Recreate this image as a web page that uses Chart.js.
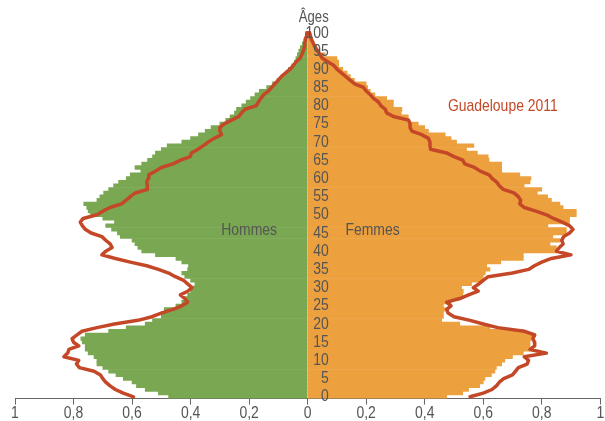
<!DOCTYPE html>
<html><head><meta charset="utf-8">
<script src="https://cdn.jsdelivr.net/npm/chart.js@4"></script>
<style>html,body{margin:0;padding:0;background:#fff;overflow:hidden}#wrap{width:605px;height:421px;position:relative}</style>
</head><body><div id="wrap"><canvas id="c"></canvas></div>
<script>
// Ages 0..100 (categories)
const ages = Array.from({length: 101}, (_, i) => String(i));
const xTickValues = [-1, -0.8, -0.6, -0.4, -0.2, 0, 0.2, 0.4, 0.6, 0.8, 1];

// Bars: Hommes (left), Femmes (right), ages 0..100
const menBars = [0.475,0.51,0.555,0.585,0.60,0.63,0.655,0.68,0.70,0.72,
 0.72,0.73,0.75,0.76,0.76,0.77,0.775,0.76,0.68,0.62,
 0.555,0.53,0.50,0.50,0.49,0.45,0.43,0.42,0.41,0.40,
 0.39,0.385,0.40,0.42,0.43,0.41,0.407,0.43,0.45,0.52,
 0.567,0.58,0.59,0.60,0.64,0.65,0.67,0.69,0.66,0.70,
 0.742,0.75,0.755,0.765,0.72,0.71,0.697,0.68,0.663,0.646,
 0.62,0.606,0.57,0.59,0.567,0.547,0.53,0.52,0.50,0.48,
 0.43,0.40,0.373,0.35,0.33,0.30,0.28,0.265,0.25,0.243,
 0.225,0.21,0.195,0.18,0.165,0.14,0.12,0.105,0.09,0.075,
 0.066,0.055,0.045,0.04,0.035,0.03,0.025,0.018,0.013,0.008,0.005];
const womenBars = [0.475,0.53,0.55,0.588,0.60,0.606,0.628,0.64,0.645,0.663,
 0.674,0.70,0.737,0.76,0.76,0.76,0.77,0.77,0.737,0.623,
 0.52,0.458,0.464,0.464,0.47,0.464,0.49,0.515,0.53,0.532,
 0.526,0.56,0.60,0.60,0.607,0.623,0.612,0.66,0.737,0.737,
 0.85,0.85,0.828,0.862,0.838,0.884,0.884,0.821,0.895,0.895,
 0.918,0.918,0.873,0.862,0.833,0.82,0.785,0.80,0.74,0.76,
 0.763,0.725,0.663,0.663,0.663,0.62,0.617,0.58,0.543,0.568,
 0.509,0.49,0.47,0.413,0.40,0.378,0.344,0.344,0.32,0.322,
 0.293,0.293,0.27,0.23,0.214,0.205,0.20,0.16,0.146,0.135,
 0.12,0.106,0.106,0.10,0.06,0.035,0.03,0.022,0.015,0.01,0.006];

// Line: Guadeloupe 2011, ages 0..100
const menLine = [0.595,0.63,0.657,0.675,0.69,0.70,0.708,0.73,0.78,0.79,
 0.782,0.833,0.82,0.816,0.782,0.80,0.805,0.788,0.771,0.72,
 0.66,0.58,0.532,0.50,0.46,0.43,0.41,0.42,0.435,0.41,
 0.395,0.41,0.424,0.452,0.475,0.51,0.55,0.606,0.657,0.703,
 0.69,0.668,0.675,0.69,0.703,0.74,0.76,0.77,0.777,0.767,
 0.72,0.70,0.675,0.636,0.62,0.606,0.589,0.547,0.548,0.55,
 0.545,0.543,0.52,0.50,0.46,0.435,0.401,0.397,0.375,0.356,
 0.34,0.32,0.294,0.30,0.30,0.285,0.26,0.235,0.226,0.214,
 0.175,0.168,0.16,0.15,0.134,0.123,0.112,0.10,0.09,0.075,
 0.06,0.049,0.04,0.026,0.02,0.015,0.011,0.01,0.008,0.005,0.003];
const womenLine = [0.555,0.60,0.63,0.645,0.655,0.67,0.70,0.71,0.72,0.75,
 0.755,0.74,0.816,0.76,0.776,0.775,0.77,0.776,0.74,0.65,
 0.60,0.555,0.50,0.48,0.475,0.49,0.475,0.52,0.55,0.583,
 0.566,0.585,0.60,0.617,0.70,0.755,0.775,0.80,0.833,0.90,
 0.85,0.86,0.873,0.868,0.875,0.895,0.907,0.895,0.87,0.84,
 0.816,0.78,0.74,0.725,0.728,0.72,0.705,0.668,0.655,0.646,
 0.63,0.62,0.59,0.57,0.537,0.53,0.50,0.475,0.42,0.418,
 0.418,0.413,0.39,0.356,0.35,0.35,0.345,0.293,0.27,0.265,
 0.25,0.242,0.225,0.214,0.20,0.191,0.16,0.145,0.13,0.115,
 0.10,0.09,0.07,0.05,0.042,0.035,0.026,0.02,0.014,0.01,0.007];

const GREEN = 'rgb(122,167,82)';
const ORANGE = 'rgb(236,160,62)';
const RED = 'rgb(196,72,40)';
const TXT = '#555555';
const FONT = '"Liberation Sans",Arial,sans-serif';
const CONDENSE = 0.82;

const linePoints = menLine.map((v, i) => ({x: -v, y: ages[i]}))
  .concat(womenLine.map((v, i) => ({x: v, y: ages[i]})).reverse());

function condensedText(ctx, text, x, y) {
  ctx.save();
  ctx.translate(x, y);
  ctx.scale(CONDENSE, 1);
  ctx.fillText(text, 0, 0);
  ctx.restore();
}

// Draw the axes' own label items with a narrow (condensed) face
function condensedDrawLabels(chartArea) {
  const ctx = this.ctx;
  const items = this.getLabelItems(chartArea);
  for (const item of items) {
    if (!item.label) continue;
    const o = item.options;
    ctx.save();
    ctx.font = item.font.string;
    ctx.fillStyle = o.color;
    ctx.textAlign = o.textAlign;
    ctx.textBaseline = o.textBaseline;
    ctx.translate(o.translation[0], o.translation[1]);
    ctx.scale(CONDENSE, 1);
    ctx.fillText(String(item.label), 0, item.textOffset || 0);
    ctx.restore();
  }
}

const annot = {
  id: 'annot',
  beforeDraw(chart) {
    chart.scales.x.drawLabels = condensedDrawLabels;
    chart.scales.y.drawLabels = condensedDrawLabels;
  },
  afterDraw(chart) {
    const ctx = chart.ctx, xs = chart.scales.x, ys = chart.scales.y;
    ctx.save();
    ctx.textBaseline = 'middle';
    ctx.font = '17px ' + FONT;
    ctx.fillStyle = TXT;
    ctx.textAlign = 'center';
    condensedText(ctx, 'Hommes', xs.getPixelForValue(-0.2), ys.getPixelForValue(45.7));
    condensedText(ctx, 'Femmes', xs.getPixelForValue(0.222), ys.getPixelForValue(45.7));
    ctx.fillStyle = RED;
    condensedText(ctx, 'Guadeloupe 2011', xs.getPixelForValue(0.667), ys.getPixelForValue(79.8));
    ctx.fillStyle = TXT;
    ctx.textAlign = 'right';
    ctx.font = '16px ' + FONT;
    condensedText(ctx, 'Âges', xs.getPixelForValue(0.072), ys.getPixelForValue(104.3));
    ctx.restore();
  }
};

new Chart(document.getElementById('c'), {
  type: 'bar',
  data: {
    labels: ages,
    datasets: [
      {label: 'Hommes', data: menBars.map(v => -v), backgroundColor: GREEN, grouped: false,
       barPercentage: 1, categoryPercentage: 1, borderWidth: 0, order: 3},
      {label: 'Femmes', data: womenBars, backgroundColor: ORANGE, grouped: false,
       barPercentage: 1, categoryPercentage: 1, borderWidth: 0, order: 2},
      {type: 'line', label: 'Guadeloupe 2011', data: linePoints, borderColor: RED,
       borderWidth: 3.5, pointRadius: 0, tension: 0, fill: false, order: 1,
       borderJoinStyle: 'round', borderCapStyle: 'round'}
    ]
  },
  options: {
    indexAxis: 'y',
    responsive: true,
    maintainAspectRatio: false,
    animation: false,
    layout: {padding: {left: 15, right: 1, top: 31, bottom: 0}},
    plugins: {legend: {display: false}, tooltip: {enabled: false}},
    scales: {
      x: {
        type: 'linear', min: -1, max: 1,
        afterBuildTicks(scale) { scale.ticks = xTickValues.map(v => ({value: v})); },
        afterFit(scale) { scale.height = 22.4; },
        grid: {display: true, drawOnChartArea: false, drawTicks: true, tickLength: 6, color: '#666'},
        border: {display: true, color: '#666', width: 1},
        ticks: {
          color: TXT, padding: 0, maxRotation: 0, autoSkip: false,
          font: {family: FONT, size: 17, lineHeight: 1},
          callback(v) { const a = Math.abs(v); return (a === 0 || a === 1) ? String(a) : a.toFixed(1).replace('.', ','); }
        }
      },
      y: {
        type: 'category', reverse: true,
        position: {x: 0.072},
        grid: {display: false, drawTicks: false},
        border: {display: false},
        ticks: {
          z: 1, autoSkip: false, padding: 0, color: TXT,
          font: {family: FONT, size: 17, lineHeight: 1},
          callback(value) { const a = Number(this.getLabelForValue(value)); return a % 5 === 0 ? String(a) : ''; }
        }
      }
    }
  },
  plugins: [annot]
});
</script></body></html>
